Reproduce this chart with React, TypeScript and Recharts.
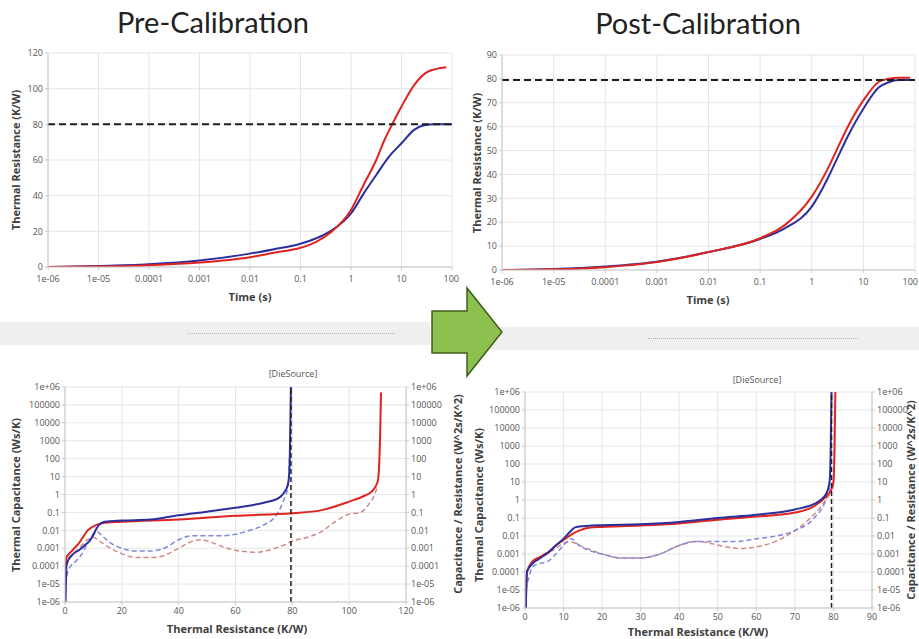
import React from "react";
import {
  LineChart,
  Line,
  XAxis,
  YAxis,
  CartesianGrid,
  ReferenceLine,
} from "recharts";

// ---- top charts: thermal resistance vs time (log time axis) ----
const TIME_TICKS = [1e-6, 1e-5, 1e-4, 1e-3, 1e-2, 0.1, 1, 10, 100];

const PRE_BLUE_T = [1e-6, 1e-5, 1e-4, 1e-3, 1e-2, 3e-2, 0.1, 0.2, 0.385, 1, 1.79, 3.16, 5.66, 10, 17.8, 28, 45, 100];
const PRE_BLUE_R = [0, 0.5, 1.5, 3.6, 7.5, 10, 13, 16, 20, 30, 41.3, 51.6, 61.9, 69.4, 76.9, 79.5, 80, 80];
const PRE_RED_T = [1e-6, 1e-5, 1e-4, 1e-3, 1e-2, 3e-2, 0.1, 0.2, 0.4, 1, 1.79, 3.16, 4.6, 6.6, 10, 17.8, 33, 77];
const PRE_RED_R = [0, 0.3, 1, 2.5, 5.5, 8, 10.8, 14, 19.5, 32, 46.3, 60, 71.2, 80.2, 90, 102, 109.5, 112];
const PRE_TICKS_Y = [0, 20, 40, 60, 80, 100, 120];
const PRE_TARGET = 80;

const POST_BLUE_T = [1e-6, 1e-5, 1e-4, 1e-3, 1e-2, 0.1, 0.3, 1, 2, 3, 5, 10, 20, 30, 50, 100];
const POST_BLUE_R = [0, 0.4, 1.5, 3.5, 7.5, 13, 17.4, 26.5, 38, 46, 56, 67.5, 76.5, 78.5, 79.5, 79.5];
const POST_RED_T = [1e-6, 1e-5, 1e-4, 1e-3, 1e-2, 0.1, 0.3, 1, 2, 3, 5, 10, 20, 30, 50, 80];
const POST_RED_R = [0, 0.3, 1.2, 3.3, 7.5, 13.3, 18.8, 30.7, 42, 50, 60, 71, 78.8, 80, 80.5, 80.5];
const POST_TICKS_Y = [0, 10, 20, 30, 40, 50, 60, 70, 80, 90];
const POST_TARGET = 79.5;

// ---- bottom charts: structure functions (x = K/W, y = capacitance, log) ----
const CAP_TICKS = [1e-6, 1e-5, 1e-4, 1e-3, 1e-2, 0.1, 1, 10, 100, 1000, 1e4, 1e5, 1e6];

const PRE_CUM_BLUE = [
  [0.2, 1e-6], [0.5, 1e-4], [1, 2e-4], [3, 5e-4], [5, 8e-4], [7, 1.5e-3], [9, 3e-3], [10, 6e-3],
  [12, 0.02], [14, 0.03], [20, 0.035], [30, 0.04], [40, 0.07], [50, 0.11], [60, 0.18], [70, 0.35],
  [75, 0.6], [77, 1.2], [78.5, 4], [79, 30], [79.3, 1e4], [79.5, 1e6],
];
const PRE_CUM_RED = [
  [0.1, 1e-5], [0.5, 3e-4], [2, 6e-4], [5, 2e-3], [8, 0.01], [11, 0.02], [13, 0.025], [20, 0.03],
  [40, 0.04], [60, 0.065], [80, 0.09], [90, 0.13], [100, 0.4], [105, 0.8], [108, 1.5], [110, 5],
  [110.5, 30], [111, 1e4], [111.2, 5e5],
];
const PRE_DIFF_BLUE = [
  [0.2, 1e-5], [1, 5e-5], [2, 1e-4], [4, 2e-4], [6, 5e-4], [8, 2e-3], [10, 5e-3], [11, 9e-3],
  [13, 5e-3], [16, 2e-3], [20, 1e-3], [25, 7e-4], [30, 7e-4], [35, 1e-3], [40, 3e-3], [45, 5e-3],
  [50, 5e-3], [55, 5e-3], [60, 6e-3], [65, 1e-2], [70, 2e-2], [75, 0.1], [77, 0.5], [78.5, 3], [79, 100],
];
const PRE_DIFF_RED = [
  [0.2, 1e-4], [2, 3e-4], [5, 1e-3], [8, 3e-3], [10, 4e-3], [13, 2e-3], [16, 1e-3], [20, 5e-4],
  [25, 3e-4], [30, 3e-4], [35, 4e-4], [40, 1e-3], [45, 2.5e-3], [48, 3e-3], [52, 2e-3], [57, 1e-3],
  [62, 7e-4], [67, 6e-4], [72, 8e-4], [77, 1.5e-3], [80, 2.5e-3], [85, 4e-3], [90, 8e-3], [95, 0.03],
  [100, 0.08], [104, 0.1], [107, 0.3], [109, 1], [110, 3],
];

const POST_CUM_BLUE = [
  [0.2, 1e-6], [0.5, 1e-4], [2, 3e-4], [4, 6e-4], [6, 1.2e-3], [8, 3e-3], [10, 7e-3], [12, 0.02],
  [13, 0.03], [15, 0.035], [20, 0.04], [30, 0.045], [40, 0.06], [50, 0.1], [60, 0.15], [70, 0.3],
  [75, 0.6], [78, 2], [79, 10], [79.3, 1000], [79.5, 1e6],
];
const POST_CUM_RED = [
  [0.2, 1e-6], [0.5, 1e-4], [2, 4e-4], [4, 7e-4], [6, 1.2e-3], [8, 3e-3], [10, 6e-3], [12, 0.012],
  [14, 0.02], [17, 0.03], [20, 0.032], [30, 0.038], [40, 0.05], [50, 0.08], [60, 0.12], [70, 0.2],
  [75, 0.45], [78, 1.5], [79.5, 4], [80, 10], [80.3, 1000], [80.5, 1e6],
];
const POST_DIFF_BLUE = [
  [0.2, 1e-5], [1, 5e-5], [2, 2e-4], [4, 3e-4], [6, 4e-4], [8, 1e-3], [10, 3e-3], [12, 7e-3],
  [14, 3e-3], [17, 1.5e-3], [20, 1e-3], [25, 6e-4], [30, 6e-4], [35, 1e-3], [40, 3e-3], [45, 5e-3],
  [50, 5e-3], [55, 5e-3], [60, 7e-3], [65, 1e-2], [70, 2e-2], [75, 0.1], [78, 1], [79, 5],
];
const POST_DIFF_RED = [
  [0.2, 1e-4], [2, 3e-4], [5, 1e-3], [8, 2e-3], [10, 4e-3], [12, 4.5e-3], [15, 2.5e-3], [20, 1e-3],
  [25, 6e-4], [30, 6e-4], [35, 1e-3], [40, 3e-3], [44, 5e-3], [48, 4e-3], [52, 2.5e-3], [56, 2e-3],
  [60, 2.5e-3], [65, 5e-3], [70, 0.02], [74, 0.1], [77, 0.5], [79, 2],
];

const DIE_X = 79.5;

const BLUE = "#2b2f9e";
const RED = "#e0231f";
const BLUE_DASH = "#7f86dc";
const RED_DASH = "#cf8a85";
const GRID = "#e6e6e6";
const AXIS = "#c8c8c8";
const TEXT = "#404040";
const FONT = "'Open Sans', sans-serif";

const tickStyle = { fontSize: 9, fill: "#555", fontFamily: FONT };

const toXY = (xs: number[], ys: number[]) => xs.map((x, i) => ({ x, y: ys[i] }));
const pairs = (p: number[][]) => p.map(([x, y]) => ({ x, y }));

function fmtLog(v: number) {
  if (v >= 1e6) return "1e+06";
  if (v === 1e-5) return "1e-05";
  if (v === 1e-6) return "1e-06";
  return String(v);
}

function VLabel({ text, x, y }: { text: string; x: number; y: number }) {
  return (
    <div
      style={{
        position: "absolute",
        left: x,
        top: y,
        transform: "translate(-50%, -50%) rotate(-90deg)",
        whiteSpace: "nowrap",
        fontFamily: FONT,
        fontWeight: 700,
        fontSize: 11,
        color: TEXT,
      }}
    >
      {text}
    </div>
  );
}

function HLabel({ text, x, y, bold = true, size = 11 }: { text: string; x: number; y: number; bold?: boolean; size?: number }) {
  return (
    <div
      style={{
        position: "absolute",
        left: x,
        top: y,
        transform: "translate(-50%, -50%)",
        whiteSpace: "nowrap",
        fontFamily: FONT,
        fontWeight: bold ? 700 : 400,
        fontSize: size,
        color: bold ? TEXT : "#555",
      }}
    >
      {text}
    </div>
  );
}

// time tick: keeps the last label inside the chart when it would be cut
function timeTick(chartWidth: number) {
  return (p: any) => {
    const label = fmtLog(p.payload.value);
    const nearEdge = p.x + 9 > chartWidth;
    return (
      <text
        x={nearEdge ? chartWidth - 1 : p.x}
        y={p.y}
        dy="0.71em"
        textAnchor={nearEdge ? "end" : "middle"}
        fontSize={9}
        fill="#555"
        fontFamily={FONT}
      >
        {label}
      </text>
    );
  };
}

function TimeChart(props: {
  left: number; top: number; width: number; height: number;
  margin: { top: number; right: number; bottom: number; left: number };
  xAxisH: number; yWidth: number; yMax: number; yTicks: number[]; target: number;
  blue: { x: number; y: number }[]; red: { x: number; y: number }[];
}) {
  const { left, top, width, height, margin, xAxisH, yWidth, yMax, yTicks, target, blue, red } = props;
  return (
    <div style={{ position: "absolute", left, top }}>
      <LineChart width={width} height={height} margin={margin}>
        <CartesianGrid stroke={GRID} />
        <XAxis
          type="number"
          dataKey="x"
          scale="log"
          domain={[1e-6, 100]}
          ticks={TIME_TICKS}
          interval={0}
          allowDataOverflow
          tick={timeTick(width)}
          tickSize={3}
          tickMargin={6}
          stroke={AXIS}
          height={xAxisH}
        />
        <YAxis
          type="number"
          domain={[0, yMax]}
          ticks={yTicks}
          interval={0}
          width={yWidth}
          tick={tickStyle}
          tickSize={3}
          tickMargin={2}
          stroke={AXIS}
          allowDataOverflow
        />
        <Line data={blue} dataKey="y" type="monotone" stroke={BLUE} strokeWidth={2} dot={false} isAnimationActive={false} />
        <Line data={red} dataKey="y" type="monotone" stroke={RED} strokeWidth={2} dot={false} isAnimationActive={false} />
        <ReferenceLine y={target} stroke="#1e1e1e" strokeWidth={2} strokeDasharray="7 4" />
      </LineChart>
    </div>
  );
}

function StructChart(props: {
  left: number; top: number; width: number; height: number;
  margin: { top: number; right: number; bottom: number; left: number };
  xAxisH: number; rightW: number; xMax: number; xTicks: number[];
  cumBlue: number[][]; cumRed: number[][]; diffBlue: number[][]; diffRed: number[][];
}) {
  const { left, top, width, height, margin, xAxisH, rightW, xMax, xTicks, cumBlue, cumRed, diffBlue, diffRed } = props;
  return (
    <div style={{ position: "absolute", left, top }}>
      <LineChart width={width} height={height} margin={margin}>
        <CartesianGrid stroke={GRID} yAxisId="l" />
        <XAxis
          type="number"
          dataKey="x"
          domain={[0, xMax]}
          ticks={xTicks}
          interval={0}
          allowDataOverflow
          tick={tickStyle}
          tickSize={3}
          tickMargin={3}
          stroke={AXIS}
          height={xAxisH}
        />
        <YAxis
          yAxisId="l"
          type="number"
          scale="log"
          domain={[1e-6, 1e6]}
          ticks={CAP_TICKS}
          tickFormatter={fmtLog}
          allowDataOverflow
          width={65}
          tick={tickStyle}
          tickSize={3}
          tickMargin={2}
          stroke={AXIS}
          interval={0}
        />
        <YAxis
          yAxisId="r"
          orientation="right"
          type="number"
          scale="log"
          domain={[1e-6, 1e6]}
          ticks={CAP_TICKS}
          tickFormatter={fmtLog}
          allowDataOverflow
          width={rightW}
          tick={tickStyle}
          tickSize={3}
          tickMargin={2}
          stroke={AXIS}
          interval={0}
        />
        <Line yAxisId="r" data={pairs(diffRed)} dataKey="y" type="monotone" stroke={RED_DASH} strokeWidth={1.5} strokeDasharray="5 3" dot={false} isAnimationActive={false} />
        <Line yAxisId="r" data={pairs(diffBlue)} dataKey="y" type="monotone" stroke={BLUE_DASH} strokeWidth={1.5} strokeDasharray="5 3" dot={false} isAnimationActive={false} />
        <Line yAxisId="l" data={pairs(cumRed)} dataKey="y" type="monotone" stroke={RED} strokeWidth={2} dot={false} isAnimationActive={false} />
        <Line yAxisId="l" data={pairs(cumBlue)} dataKey="y" type="monotone" stroke={BLUE} strokeWidth={2} dot={false} isAnimationActive={false} />
        <ReferenceLine yAxisId="l" x={DIE_X} stroke="#1e1e1e" strokeWidth={1.5} strokeDasharray="5 3" />
      </LineChart>
    </div>
  );
}

export default function App() {
  return (
    <div
      style={{
        position: "absolute",
        left: 0,
        top: 0,
        width: 919,
        height: 639,
        overflow: "hidden",
        background: "#fff",
        fontFamily: FONT,
      }}
    >
      {/* titles */}
      <div style={{ position: "absolute", left: 213, top: 4, transform: "translateX(-50%)", fontFamily: "Lato, sans-serif", fontSize: 29, color: "#222", whiteSpace: "nowrap" }}>
        Pre-Calibration
      </div>
      <div style={{ position: "absolute", left: 698, top: 5, transform: "translateX(-50%)", fontFamily: "Lato, sans-serif", fontSize: 29, color: "#222", whiteSpace: "nowrap" }}>
        Post-Calibration
      </div>

      {/* separator bands */}
      <div style={{ position: "absolute", left: 0, top: 322, width: 430, height: 23, background: "#efefef" }} />
      <div style={{ position: "absolute", left: 188, top: 333, width: 207, height: 0, borderTop: "1px dotted #b5b5b5" }} />
      <div style={{ position: "absolute", left: 490, top: 327, width: 429, height: 23, background: "#efefef" }} />
      <div style={{ position: "absolute", left: 648, top: 338, width: 210, height: 0, borderTop: "1px dotted #b5b5b5" }} />

      <TimeChart
        left={0} top={40} width={460} height={270}
        margin={{ top: 13, right: 8, bottom: 0, left: 0 }}
        xAxisH={43} yWidth={48} yMax={120} yTicks={PRE_TICKS_Y} target={PRE_TARGET}
        blue={toXY(PRE_BLUE_T, PRE_BLUE_R)} red={toXY(PRE_RED_T, PRE_RED_R)}
      />
      <TimeChart
        left={460} top={40} width={459} height={270}
        margin={{ top: 15, right: 4, bottom: 0, left: 0 }}
        xAxisH={40} yWidth={42} yMax={90} yTicks={POST_TICKS_Y} target={POST_TARGET}
        blue={toXY(POST_BLUE_T, POST_BLUE_R)} red={toXY(POST_RED_T, POST_RED_R)}
      />

      <StructChart
        left={0} top={360} width={470} height={279}
        margin={{ top: 27, right: 14, bottom: 0, left: 0 }}
        xAxisH={37} rightW={50} xMax={120} xTicks={[0, 20, 40, 60, 80, 100, 120]}
        cumBlue={PRE_CUM_BLUE} cumRed={PRE_CUM_RED} diffBlue={PRE_DIFF_BLUE} diffRed={PRE_DIFF_RED}
      />
      <StructChart
        left={460} top={360} width={459} height={279}
        margin={{ top: 32, right: 2, bottom: 0, left: 0 }}
        xAxisH={31} rightW={45} xMax={90} xTicks={[0, 10, 20, 30, 40, 50, 60, 70, 80, 90]}
        cumBlue={POST_CUM_BLUE} cumRed={POST_CUM_RED} diffBlue={POST_DIFF_BLUE} diffRed={POST_DIFF_RED}
      />

      {/* axis titles */}
      <VLabel text="Thermal Resistance (K/W)" x={15} y={160} />
      <HLabel text="Time (s)" x={250} y={296} />
      <VLabel text="Thermal Resistance (K/W)" x={476} y={163} />
      <HLabel text="Time (s)" x={708} y={299} />

      <HLabel text="[DieSource]" x={293} y={373} bold={false} size={9} />
      <VLabel text="Thermal Capacitance (Ws/K)" x={15} y={495} />
      <VLabel text="Capacitance / Resistance (W^2s/K^2)" x={457} y={494} />
      <HLabel text="Thermal Resistance (K/W)" x={237} y={628} />

      <HLabel text="[DieSource]" x={757} y={379} bold={false} size={9} />
      <VLabel text="Thermal Capacitance (Ws/K)" x={478} y={505} />
      <VLabel text="Capacitance / Resistance (W^2s/K^2)" x={910} y={500} />
      <HLabel text="Thermal Resistance (K/W)" x={698} y={631} />

      {/* green arrow */}
      <svg width={919} height={639} style={{ position: "absolute", left: 0, top: 0, pointerEvents: "none" }}>
        <polygon
          points="432,311 467,311 467,288 502,332 467,376 467,353 432,353"
          fill="#8dc04f"
          stroke="#3f5f1f"
          strokeWidth={1.5}
        />
      </svg>
    </div>
  );
}
